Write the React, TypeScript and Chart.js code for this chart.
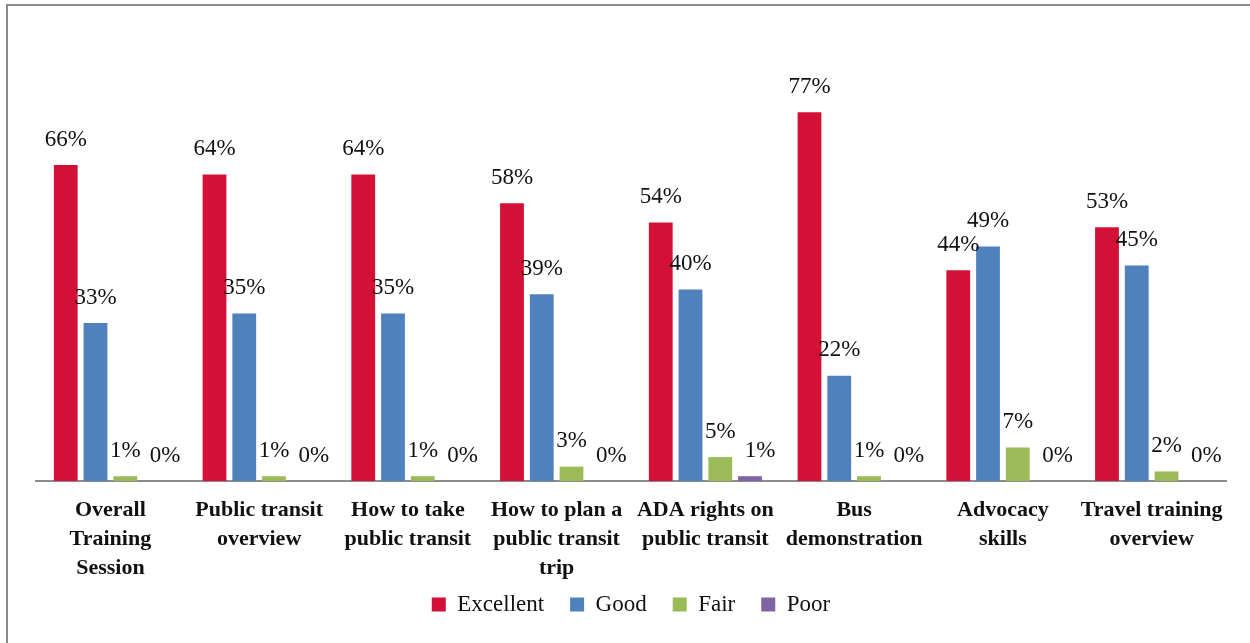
import React, { useEffect, useRef } from "react";
import { Chart, registerables } from "chart.js";

Chart.register(...registerables);

const categories: string[][] = [
  ["Overall", "Training", "Session"],
  ["Public transit", "overview"],
  ["How to take", "public transit"],
  ["How to plan a", "public transit", "trip"],
  ["ADA rights on", "public transit"],
  ["Bus", "demonstration"],
  ["Advocacy", "skills"],
  ["Travel training", "overview"],
];

const excellent = [66, 64, 64, 58, 54, 77, 44, 53];
const good = [33, 35, 35, 39, 40, 22, 49, 45];
const fair = [1, 1, 1, 3, 5, 1, 7, 2];
const poor = [0, 0, 0, 0, 1, 0, 0, 0];

const seriesNames = ["Excellent", "Good", "Fair", "Poor"];
const seriesColors = ["#D31137", "#4F81BD", "#9BBB59", "#8064A2"];
const labelOffsets = [0, 0, 0, 10];

const FONT = "'Palatino Linotype', 'Book Antiqua', Palatino, 'Liberation Serif', serif";

const dataLabels = {
  id: "dataLabels",
  afterDatasetsDraw(chart: any) {
    const ctx = chart.ctx;
    ctx.save();
    ctx.font = `23px ${FONT}`;
    ctx.fillStyle = "#111";
    ctx.textAlign = "center";
    ctx.textBaseline = "bottom";
    chart.data.datasets.forEach((ds: any, i: number) => {
      const meta = chart.getDatasetMeta(i);
      meta.data.forEach((el: any, j: number) => {
        ctx.fillText(`${ds.data[j]}%`, el.x + labelOffsets[i], el.y - 14);
      });
    });
    ctx.restore();
  },
};

export default function App() {
  const ref = useRef<HTMLCanvasElement | null>(null);
  useEffect(() => {
    if (!ref.current) return;
    const chart = new Chart(ref.current, {
      type: "bar",
      data: {
        labels: categories,
        datasets: [excellent, good, fair, poor].map((d, i) => ({
          label: seriesNames[i],
          data: d,
          backgroundColor: seriesColors[i],
          borderWidth: 0,
          categoryPercentage: 0.8,
          barPercentage: 0.8,
        })),
      },
      options: {
        animation: false,
        responsive: false,
        layout: { padding: { left: 36, right: 24, top: 98, bottom: 17 } },
        plugins: {
          legend: {
            position: "bottom",
            labels: {
              boxWidth: 14,
              boxHeight: 14,
              padding: 26,
              color: "#111",
              font: { family: FONT, size: 23 },
            },
          },
          tooltip: { enabled: false },
        },
        scales: {
          x: {
            grid: { display: false, drawTicks: false },
            border: { display: true, color: "#8c8c8c", width: 2 },
            ticks: {
              color: "#111",
              padding: 15,
              maxRotation: 0,
              autoSkip: false,
              font: { family: FONT, size: 22, weight: "bold", lineHeight: 1.32 },
            },
            afterFit: (scale: any) => {
              scale.height = 86;
              scale._computeLabelArea = () => undefined;
            },
          },
          y: { display: false, min: 0, max: 80 },
        },
      },
      plugins: [dataLabels],
    });
    return () => chart.destroy();
  }, []);
  return (
    <div style={{ position: "fixed", left: 0, top: 0, width: 1250, height: 643, overflow: "hidden", background: "#fff" }}>
      <div style={{ position: "absolute", left: 6, top: 4, width: 1300, height: 700, borderTop: "2px solid #8c8c8c", borderLeft: "2px solid #8c8c8c" }} />
      <canvas ref={ref} width={1250} height={643} style={{ position: "absolute", left: 0, top: 0 }} />
    </div>
  );
}
